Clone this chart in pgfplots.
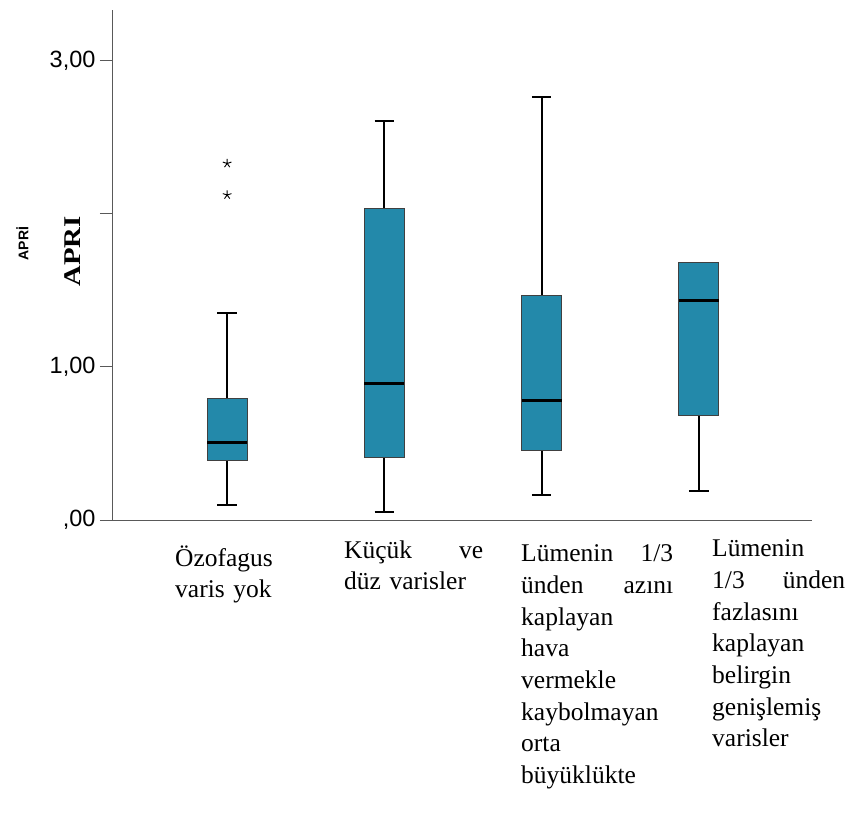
\documentclass[border=0pt]{standalone}
\usepackage{fontspec}
\setmainfont{Liberation Serif}
\newfontfamily\arial{Liberation Sans}
\usepackage{graphicx}
\usepackage{pgfplots}
\pgfplotsset{compat=1.18}
\usepgfplotslibrary{statistics}
\definecolor{boxfill}{RGB}{35,137,170}
\begin{document}
\begin{tikzpicture}
\path[use as bounding box] (-113pt,-297pt) rectangle (740pt,520pt);
\begin{axis}[
  at={(0pt,0pt)}, anchor=south west,
  scale only axis, width=699pt, height=510pt,
  xmin=0.274, xmax=4.72, ymin=0, ymax=3.333,
  axis x line=bottom, axis y line=left,
  axis line style={-, black!65, line width=1pt},
  xtick=\empty,
  ytick={0,1,2,3},
  yticklabels={{,00},{1,00},{},{3,00}},
  tick align=outside, major tick length=13pt,
  tick style={black!65, line width=1pt},
  yticklabel style={font=\arial\fontsize{23.5}{23.5}\selectfont, xshift=-1pt},
  clip=false,
  boxplot/draw direction=y,
  boxplot/box extend=0.255,
  boxplot/whisker extend=0.125,
  boxplot/every whisker/.style={line width=2pt, draw=black},
  boxplot/every median/.style={line width=3pt, draw=black},
  boxplot/every box/.style={fill=boxfill, draw=black!75, line width=1pt},
]
\addplot[boxplot prepared={draw position=1, lower whisker=0.098, lower quartile=0.392,
  median=0.505, upper quartile=0.795, upper whisker=1.351},
  draw=black, mark=star, mark size=4.5pt, mark options={black, line width=0.9pt, solid}]
  table[row sep=\\, y index=0] {y\\ 2.124\\ 2.33\\};
\addplot[boxplot prepared={draw position=2, lower whisker=0.052, lower quartile=0.41,
  median=0.893, upper quartile=2.033, upper whisker=2.61}, draw=black]
  coordinates {};
\addplot[boxplot prepared={draw position=3, lower whisker=0.161, lower quartile=0.453,
  median=0.778, upper quartile=1.464, upper whisker=2.767}, draw=black]
  coordinates {};
\addplot[boxplot prepared={draw position=4, lower whisker=0.19, lower quartile=0.682,
  median=1.433, upper quartile=1.684, upper whisker=1.684},
  boxplot/draw/upper whisker/.code={}, draw=black]
  coordinates {};
\end{axis}
% y axis titles
\node[rotate=90, font=\arial\bfseries\fontsize{14}{14}\selectfont, inner sep=0pt] at (-90.5pt,276.5pt) {APRİ};
\node[rotate=90, font=\bfseries\fontsize{24}{24}\selectfont, inner sep=0pt] at (-40.5pt,268.5pt) {\scalebox{1.2}[1]{APRI}};
% category labels
\begin{scope}[every node/.style={font=\fontsize{25.5}{31.7}\selectfont, inner sep=0pt, anchor=base west, align=left}]
\node[text width=130pt] at (62pt,-46pt) {Özofagus\\varis yok};
\node[text width=139pt] at (231pt,-38pt) {Küçük\hfill ve\\düz varisler};
\node[text width=152pt] at (408pt,-41.7pt) {Lümenin\hfill 1/3\\ünden\hfill azını\\kaplayan\\hava\\vermekle\\kaybolmayan\\orta\\büyüklükte};
\node[text width=133pt] at (599pt,-36.7pt) {Lümenin\\1/3\hfill ünden\\fazlasını\\kaplayan\\belirgin\\genişlemiş\\varisler};
\end{scope}
\end{tikzpicture}
\end{document}
